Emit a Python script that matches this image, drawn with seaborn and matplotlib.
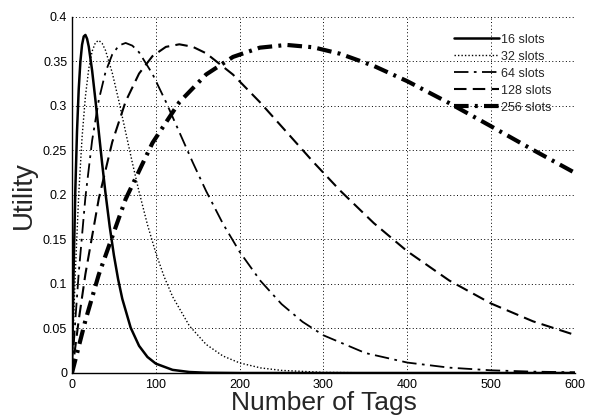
import numpy as np
import pandas as pd
import seaborn as sns
from matplotlib import pyplot as plt

# values (Number of Tags vs Utility)
x16 = [0, 1, 2, 4, 6, 8, 10, 12, 14, 16, 18, 20, 24, 28, 32, 36, 40, 45, 50, 55, 60, 70, 80, 90, 100, 120, 140, 160, 200, 300, 400, 500, 600]
y16 = [0, 0.0625, 0.1172, 0.2060, 0.2716, 0.3182, 0.3497, 0.3688, 0.3781, 0.3798, 0.3755, 0.3667, 0.3399, 0.3063, 0.2705, 0.2351, 0.2018, 0.1644, 0.1323, 0.1054, 0.0833, 0.0509, 0.0305, 0.0180, 0.0105, 0.0035, 0.0011, 0.0003, 0, 0, 0, 0, 0]

x32 = [0, 2, 4, 8, 12, 16, 20, 24, 28, 32, 36, 40, 48, 56, 64, 72, 80, 90, 100, 110, 120, 140, 160, 180, 200, 225, 250, 300, 350, 400, 500, 600]
y32 = [0, 0.0605, 0.1136, 0.2002, 0.2645, 0.3106, 0.3419, 0.3614, 0.3713, 0.3737, 0.3703, 0.3624, 0.3373, 0.3052, 0.2706, 0.2362, 0.2036, 0.1667, 0.1348, 0.1080, 0.0858, 0.0530, 0.0321, 0.0191, 0.0113, 0.0057, 0.0029, 0.0007, 0.0002, 0.0, 0, 0]

x64 = [0, 4, 8, 16, 24, 32, 40, 48, 56, 64, 72, 80, 96, 112, 128, 144, 160, 180, 200, 225, 250, 275, 300, 350, 400, 450, 500, 550, 600]
y64 = [0, 0.0596, 0.1120, 0.1974, 0.2611, 0.3069, 0.3382, 0.3578, 0.3680, 0.3708, 0.3678, 0.3603, 0.3360, 0.3047, 0.2707, 0.2367, 0.2044, 0.1678, 0.1361, 0.1033, 0.0774, 0.0575, 0.0423, 0.0224, 0.0117, 0.0060, 0.0030, 0.0015, 0.0008]

x128 = [0, 8, 16, 32, 48, 64, 80, 96, 112, 128, 144, 160, 192, 224, 256, 288, 320, 360, 400, 450, 500, 550, 600]
y128 = [0, 0.0592, 0.1111, 0.1960, 0.2594, 0.3051, 0.3364, 0.3560, 0.3664, 0.3693, 0.3665, 0.3592, 0.3353, 0.3044, 0.2707, 0.2369, 0.2048, 0.1684, 0.1367, 0.1039, 0.0780, 0.0580, 0.0427]

x256 = [0, 16, 32, 64, 96, 128, 160, 192, 224, 256, 288, 320, 360, 400, 450, 500, 550, 600]
y256 = [0, 0.0589, 0.1107, 0.1954, 0.2585, 0.3042, 0.3354, 0.3551, 0.3655, 0.3686, 0.3659, 0.3586, 0.3450, 0.3278, 0.3032, 0.2771, 0.2506, 0.2248]

labels = ['16 slots', '32 slots', '64 slots', '128 slots', '256 slots']

sns.set_style('white')
plt.rcParams['font.family'] = ['Liberation Sans', 'DejaVu Sans']

fig = plt.figure(figsize=(5.92, 4.16), dpi=100)
ax = fig.add_axes([0.1216, 0.1034, 0.8497, 0.8558])

series = [(x16, y16), (x32, y32), (x64, y64), (x128, y128), (x256, y256)]
#line styles: solid, dotted, dash-dot, dashed, thick dash-dot
styles = [
    dict(linestyle='-', linewidth=1.8),
    dict(linestyle=(0, (1, 1.5)), linewidth=1.0),
    dict(linestyle=(0, (8, 3, 1.5, 3)), linewidth=1.3),
    dict(linestyle=(0, (6, 3)), linewidth=1.5),
    dict(linestyle=(0, (3.5, 1.5, 0.7, 1.5)), linewidth=3.0),
]
for (xs, ys), lab, st in zip(series, labels, styles):
    sns.lineplot(x=xs, y=ys, ax=ax, color='black', label=lab, **st)

ax.set_xlim(0, 600)
ax.set_ylim(0, 0.4)
ax.set_xticks(np.arange(0, 601, 100))
ax.set_yticks(np.arange(0, 0.401, 0.05))
ax.set_yticklabels(['0', '0.05', '0.1', '0.15', '0.2', '0.25', '0.3', '0.35', '0.4'])
ax.grid(True, linestyle=(0, (1, 2.5)), color='black', linewidth=0.7)
ax.tick_params(direction='in', length=4, labelsize=9, colors='black')
ax.tick_params(axis='x', pad=4)
for s in ['top', 'right']:
    ax.spines[s].set_visible(False)
for s in ['left', 'bottom']:
    ax.spines[s].set_color('black')
    ax.spines[s].set_linewidth(1.0)

ax.set_xlabel('Number of Tags', fontsize=19, labelpad=0)
ax.set_ylabel('Utility', fontsize=20, labelpad=4)

ax.legend(loc='upper right', bbox_to_anchor=(0.975, 0.985), frameon=False,
          fontsize=9, handlelength=3.6, handletextpad=0.1, labelspacing=0.4)

fig.savefig('out.png', dpi=100)
